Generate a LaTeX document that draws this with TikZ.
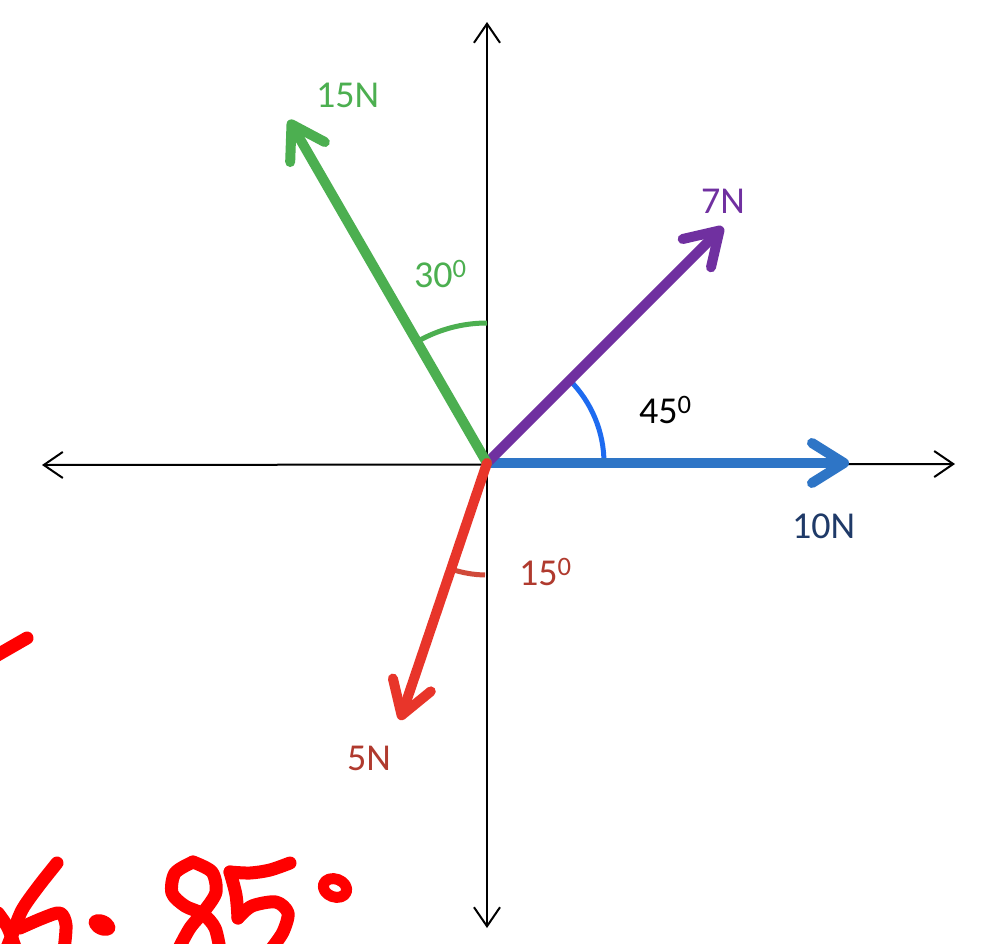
\documentclass[tikz,border=0pt]{standalone}
\usepackage{fontspec}
\setmainfont{Carlito}
\usetikzlibrary{arrows.meta}
\definecolor{cG}{HTML}{4CAF50}
\definecolor{cP}{HTML}{7030A0}
\definecolor{cB}{HTML}{2E75C6}
\definecolor{cBarc}{HTML}{1E6BF0}
\definecolor{cR}{HTML}{E8352A}
\definecolor{cRt}{HTML}{B03A2E}
\definecolor{cRarc}{HTML}{D04A3A}
\definecolor{cNavy}{HTML}{1F3A68}
\definecolor{hand}{HTML}{FF0000}
\tikzset{
  axisline/.style={draw=black, line width=2pt, {Straight Barb[length=19pt,width=26pt]}-{Straight Barb[length=19pt,width=26pt]}},
  force/.style={line width=10pt, line cap=round, -{Straight Barb[round,length=32pt,width=40pt]}},
  anglearc/.style={line width=5pt, line cap=butt},
  lbl/.style={inner sep=0pt, anchor=base west, font=\fontsize{38}{44}\selectfont},
  handstroke/.style={draw=hand, line width=13pt, line cap=round, line join=round}
}
\begin{document}
\begin{tikzpicture}[x=1pt, y=-1pt]
\useasboundingbox (0,0) rectangle (983,943);
\clip (0,0) rectangle (983,943);
\fill[white] (0,0) rectangle (983,943);
% axes
\coordinate (O) at (487,463);
\coordinate (xL) at (42,465);
\coordinate (xR) at (955,464);
\coordinate (yT) at (487,22);
\coordinate (yB) at (487,928);
\draw[axisline] (xL) -- (xR);
\draw[axisline] (yT) -- (yB);
% force tips
\coordinate (tG) at (289,120);
\coordinate (tP) at (723,227);
\coordinate (tB) at (849,463);
\coordinate (tR) at (400,720);
% arcs
\draw[anglearc, cG] (O) ++(-90:140) arc[start angle=-90, end angle=-120.5, radius=140];
\draw[anglearc, cBarc] (O) ++(0:117) arc[start angle=0, end angle=-45, radius=117];
\draw[anglearc, cRarc] (O) ++(91:112) arc[start angle=91, end angle=108.7, radius=112];
% forces
\draw[force, cB] (O) -- (tB);
\draw[force, cP] (O) -- (tP);
\draw[force, cG] (O) -- (tG);
\draw[force, cR] (O) -- (tR);
% labels
\node[lbl, text=cG] (l15N) at (316,107) {15N};
\node[lbl, text=cG] (l30) at (414,287) {30\textsuperscript{0}};
\node[lbl, text=cP] (l7N) at (701,213) {7N};
\node[lbl, text=black] (l45) at (639,423) {45\textsuperscript{0}};
\node[lbl, text=cNavy] (l10N) at (792,538) {10N};
\node[lbl, text=cRt] (l15) at (519,585) {15\textsuperscript{0}};
\node[lbl, text=cRt] (l5N) at (347,770) {5N};
% handwritten annotation
\draw[handstroke] (-6,657) -- (27,638);
\draw[handstroke] plot[smooth] coordinates {(57,863) (38,887) (22,910) (12,935) (6,950)};
\draw[handstroke] plot[smooth] coordinates {(-2,913) (8,928) (16,950)};
\draw[handstroke] plot[smooth] coordinates {(20,928) (43,918) (60,913) (66,925) (64,950)};
\fill[hand, rotate around={-25:(102,925)}] (102,925) ellipse[x radius=14, y radius=10];
\draw[handstroke] plot[smooth] coordinates {(193,862) (175,873) (172,893) (185,906) (203,914) (215,928) (220,950)};
\draw[handstroke] plot[smooth] coordinates {(193,862) (212,872) (216,892) (205,910) (190,928) (178,950)};
\draw[handstroke] plot[smooth] coordinates {(290,863) (270,870) (250,873) (230,872)};
\draw[handstroke] plot[smooth] coordinates {(230,872) (236,895) (238,918)};
\draw[handstroke] plot[smooth] coordinates {(238,918) (252,906) (276,902) (288,913) (283,932) (272,948)};
\draw[handstroke, line width=11pt, rotate around={-20:(335,888)}] (335,888) ellipse[x radius=12, y radius=9];
\end{tikzpicture}
\end{document}
